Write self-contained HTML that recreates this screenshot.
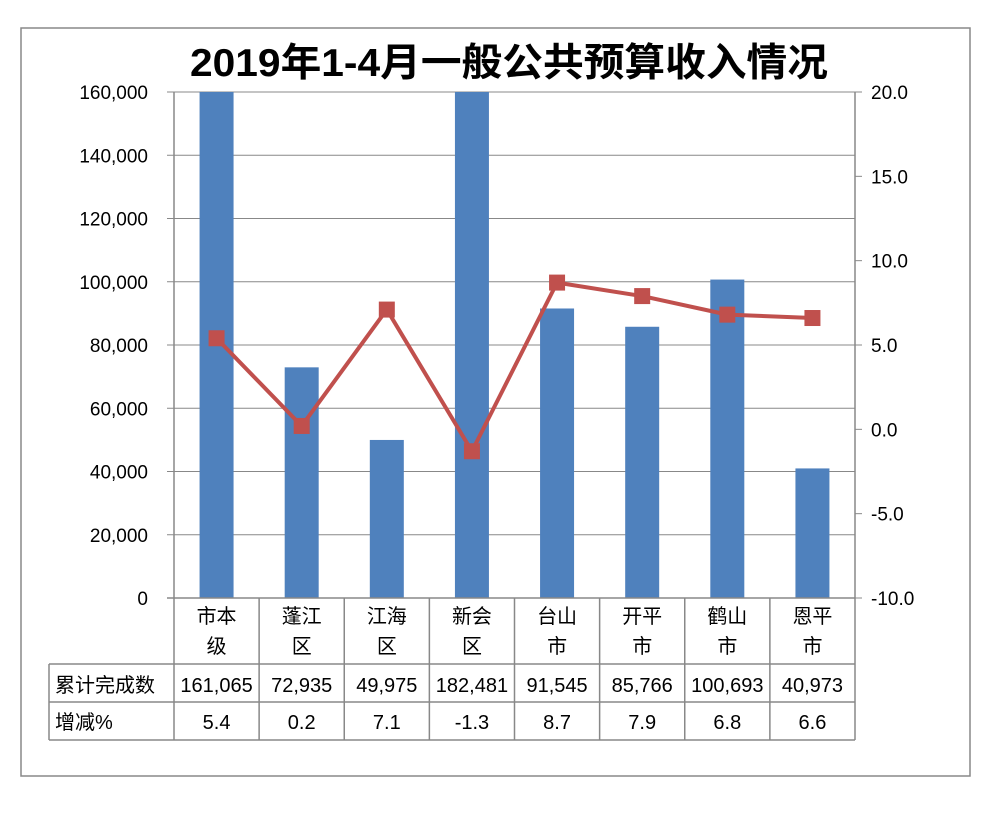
<!DOCTYPE html>
<html><head><meta charset="utf-8"><style>
html,body{margin:0;padding:0;background:#fff;}
svg{display:block;font-family:"Liberation Sans","Noto Sans CJK SC",sans-serif;}
</style></head><body>
<svg id="c" width="1000" height="816">
<rect x="21" y="28" width="949" height="748" fill="#fff" stroke="#888" stroke-width="1.5"/>
<text x="509" y="76" text-anchor="middle" font-size="39" font-weight="bold" textLength="638" lengthAdjust="spacingAndGlyphs">2019年1-4月一般公共预算收入情况</text>
<g id="grid"></g><g id="bars"></g><g id="axes"></g><g id="line"></g><g id="table"></g>
</svg>
<script>
const categories=[["市本","级"],["蓬江","区"],["江海","区"],["新会","区"],["台山","市"],["开平","市"],["鹤山","市"],["恩平","市"]];
const revenue=[161065,72935,49975,182481,91545,85766,100693,40973];
const growth=[5.4,0.2,7.1,-1.3,8.7,7.9,6.8,6.6];
const leftTicks=[0,20000,40000,60000,80000,100000,120000,140000,160000];
const rightTicks=[-10,-5,0,5,10,15,20];
const revLabels=["161,065","72,935","49,975","182,481","91,545","85,766","100,693","40,973"];
const growthLabels=["5.4","0.2","7.1","-1.3","8.7","7.9","6.8","6.6"];

const NS="http://www.w3.org/2000/svg";
const X0=174,X1=855,Y0=598,Y1=92;
const n=categories.length,bw=(X1-X0)/n;
const yL=v=>Y0-(Math.min(v,160000)/160000)*(Y0-Y1);
const yR=v=>Y0-((v+10)/30)*(Y0-Y1);
const xC=i=>X0+bw*(i+0.5);
function mk(tag,attrs,parent,text){const e=document.createElementNS(NS,tag);for(const k in attrs)e.setAttribute(k,attrs[k]);if(text!==undefined)e.textContent=text;document.getElementById(parent).appendChild(e);return e;}
const fmt=v=>v.toLocaleString("en-US");

leftTicks.forEach(t=>{
 const y=yL(t);
 if(t>0){const g=mk("line",{x1:X0,x2:X1,y1:y,y2:y,stroke:"#888","stroke-width":1},"grid");
 
 }
 const tk=mk("line",{x1:X0-7,x2:X0,y1:y,y2:y,stroke:"#888"},"axes");
 
 
 const l=mk("text",{x:X0-26,y:y+7,"text-anchor":"end","font-size":19},"axes",fmt(t));
 
 
});
rightTicks.forEach(t=>{
 const y=yR(t);
 const tk=mk("line",{x1:X1,x2:X1+7,y1:y,y2:y,stroke:"#888"},"axes");
 
 
 const l=mk("text",{x:X1+16,y:y+7,"font-size":19},"axes",t.toFixed(1));
 
 
});
let a=mk("line",{x1:X0,x2:X0,y1:Y1,y2:Y0,stroke:"#888","stroke-width":1.5},"axes");


a=mk("line",{x1:X1,x2:X1,y1:Y1,y2:Y0,stroke:"#888","stroke-width":1.5},"axes");


a=mk("line",{x1:X0-7,x2:X1,y1:Y0,y2:Y0,stroke:"#888","stroke-width":1.5},"axes");



revenue.forEach((v,i)=>{
 const y=yL(v);
 const b=mk("rect",{x:xC(i)-17,y:y,width:34,height:Y0-y,fill:"#4f81bd"},"bars");
 
 
});
const pts=growth.map((v,i)=>xC(i)+","+yR(v)).join(" ");
const pl=mk("polyline",{points:pts,fill:"none",stroke:"#c0504d","stroke-width":4,"stroke-linejoin":"round"},"line");


growth.forEach((v,i)=>{
 const m=mk("rect",{x:xC(i)-8,y:yR(v)-8,width:16,height:16,fill:"#c0504d"},"line");
 
 
});

const TL=49,r1=664,r2=702,r3=740;
[[TL,r1,X1,r1],[TL,r2,X1,r2],[TL,r3,X1,r3],[TL,r1,TL,r3]].forEach(c=>{
 const l=mk("line",{x1:c[0],y1:c[1],x2:c[2],y2:c[3],stroke:"#888","stroke-width":1.5},"table");
 
 
});
for(let i=0;i<=n;i++){
 const x=X0+bw*i;
 const l=mk("line",{x1:x,y1:Y0,x2:x,y2:r3,stroke:"#888","stroke-width":1.5},"table");
 
 
}
let h=mk("text",{x:55,y:692,"font-size":20},"table","累计完成数");


h=mk("text",{x:55,y:729,"font-size":20},"table","增减%");


categories.forEach((c,i)=>{
 const t1=mk("text",{x:xC(i),y:623,"text-anchor":"middle","font-size":20},"table",c[0]);
 
 
 const t2=mk("text",{x:xC(i),y:653,"text-anchor":"middle","font-size":20},"table",c[1]);
 
 
 const v=mk("text",{x:xC(i),y:692,"text-anchor":"middle","font-size":20},"table",revLabels[i]);
 
 
 const g=mk("text",{x:xC(i),y:729,"text-anchor":"middle","font-size":20},"table",growthLabels[i]);
 
 
});
</script>
</body></html>
